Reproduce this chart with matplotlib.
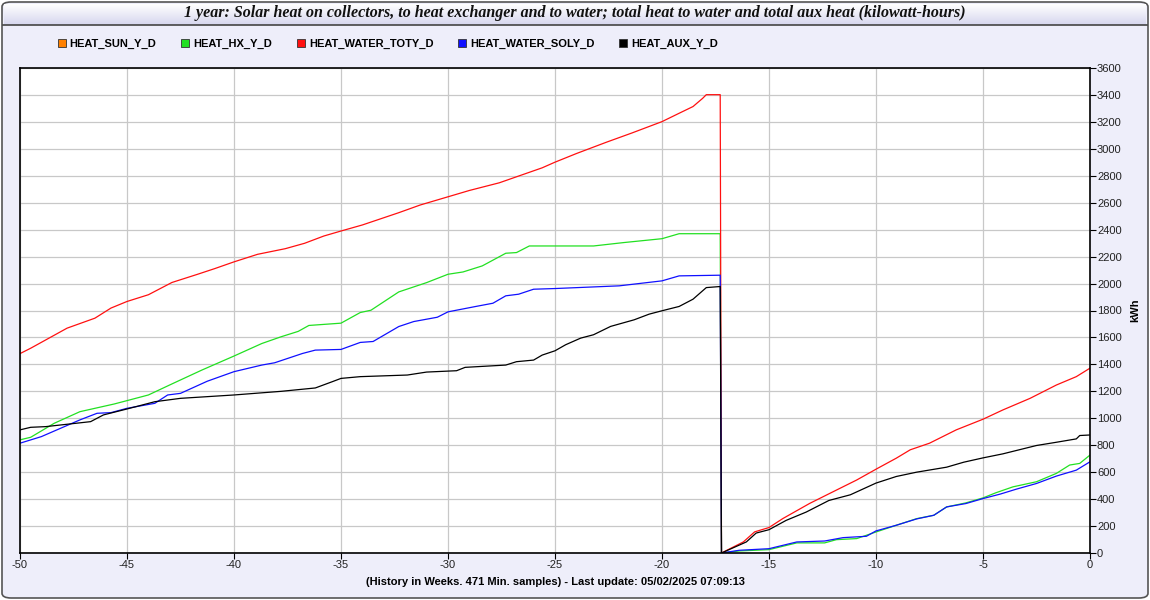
import matplotlib.pyplot as plt
import numpy as np
from matplotlib.lines import Line2D
from matplotlib.patches import FancyBboxPatch
from matplotlib.colors import LinearSegmentedColormap

plt.rcParams["axes.unicode_minus"] = False

# weeks (x) and kWh (y)
sun_w = []
sun_v = []

hx_w = [-50, -49.5, -48.4, -47.2, -45.6, -45, -44, -42.9, -41.5, -40, -38.7, -37.8, -37,
        -36.5, -35, -34.1, -33.6, -32.3, -31, -30, -29.3, -28.4, -27.3, -26.8, -26.2, -25,
        -23.2, -21.8, -20, -19.2, -17.28,
        -17.22, -16.4, -15, -13.7, -12.4, -11.85, -10.9, -10, -9.05, -8.1, -7.3, -6.7, -5.8,
        -5, -4.4, -3.6, -2.5, -1.57, -0.95, -0.48, 0]
hx_v = [840, 859, 963, 1049, 1106, 1131, 1173, 1255, 1358, 1462, 1555, 1605, 1645,
        1689, 1706, 1785, 1802, 1938, 2007, 2069, 2086, 2131, 2225, 2230, 2279, 2279,
        2279, 2304, 2333, 2370, 2370,
        0, 15, 25, 75, 75, 99, 107, 156, 206, 255, 280, 342, 372,
        409, 447, 491, 529, 591, 653, 665, 727]

tot_w = [-50, -49.5, -47.8, -46.5, -45.75, -45, -44, -42.9, -41.7, -40.9, -40, -38.9, -37.6,
         -36.7, -35.8, -35, -34, -32.3, -31.3, -30, -29, -27.6, -26.7, -25.6, -25, -24,
         -22.6, -21.4, -20, -19.2, -18.55, -18.1, -17.93, -17.28,
         -17.22, -16.2, -15.67, -15, -14.35, -13.1, -11.85, -10.9, -10, -9.05, -8.4, -7.5,
         -6.25, -5, -4.07, -2.8, -1.57, -0.64, 0]
tot_v = [1480, 1520, 1669, 1743, 1818, 1867, 1917, 2008, 2069, 2111, 2161, 2217, 2259,
         2299, 2353, 2390, 2435, 2526, 2583, 2644, 2691, 2748, 2798, 2859, 2901, 2965,
         3049, 3118, 3202, 3264, 3314, 3375, 3402, 3402,
         0, 82, 157, 189, 256, 368, 467, 542, 622, 704, 766, 815,
         914, 993, 1062, 1148, 1247, 1309, 1372]

sol_w = [-50, -49, -47.2, -46.4, -45.75, -45, -43.7, -43.1, -42.5, -41.25, -40, -38.7, -38.1,
         -36.8, -36.2, -35, -34.1, -33.5, -32.3, -31.6, -30.5, -30, -28.7, -27.9, -27.3,
         -26.7, -26, -25, -22, -20, -19.2, -17.28,
         -17.22, -16.4, -15, -13.7, -12.4, -11.54, -10.45, -10, -9.05, -8.1, -7.3, -6.7,
         -5.8, -5, -4.2, -3.44, -2.5, -1.57, -0.64, 0]
sol_v = [815, 864, 988, 1037, 1042, 1074, 1111, 1173, 1185, 1275, 1346, 1395, 1412,
         1481, 1506, 1511, 1563, 1570, 1681, 1718, 1750, 1790, 1830, 1854, 1909,
         1921, 1958, 1963, 1983, 2020, 2057, 2062,
         0, 20, 32, 82, 89, 114, 124, 164, 206, 253, 280, 342,
         367, 404, 437, 474, 516, 571, 615, 677]

aux_w = [-50, -49.5, -48.8, -46.7, -46.1, -45, -43.7, -42.5, -40, -37.8, -36.2, -35.4, -35,
         -34.1, -31.9, -31, -29.6, -29.2, -27.3, -26.8, -26, -25.6, -25, -24.5, -23.8,
         -23.2, -22.4, -21.3, -20.6, -20, -19.2, -18.55, -17.93, -17.28,
         -17.22, -16.06, -15.6, -15, -14.2, -13.26, -12.2, -11.2, -10, -9.05, -8.1, -6.7,
         -5.9, -5, -4.07, -2.5, -1.57, -0.64, -0.48, 0]
aux_v = [914, 933, 938, 975, 1025, 1069, 1123, 1148, 1173, 1200, 1225, 1272, 1296,
         1309, 1321, 1343, 1353, 1378, 1395, 1420, 1432, 1469, 1501, 1546, 1595,
         1620, 1682, 1731, 1773, 1798, 1830, 1884, 1970, 1978,
         0, 82, 148, 173, 242, 304, 390, 432, 519, 568, 600, 637,
         674, 706, 736, 798, 822, 847, 872, 876]

names = ["HEAT_SUN_Y_D", "HEAT_HX_Y_D", "HEAT_WATER_TOTY_D", "HEAT_WATER_SOLY_D", "HEAT_AUX_Y_D"]
colors = ["#ff8000", "#22e022", "#ff1010", "#1010ff", "#000000"]

title = "1 year: Solar heat on collectors, to heat exchanger and to water; total heat to water and total aux heat (kilowatt-hours)"
xlabel = "(History in Weeks. 471 Min. samples) - Last update: 05/02/2025 07:09:13"

BG = "#eeeefa"
W, H = 1150, 600

fig = plt.figure(figsize=(W / 100, H / 100), dpi=100)
fig.patch.set_facecolor("white")

# outer rounded frame, behind everything
frame = FancyBboxPatch((2 / W, 2 / H), 1 - 4 / W, 1 - 4 / H,
                       boxstyle="round,pad=0,rounding_size=0.008",
                       transform=fig.transFigure, facecolor=BG,
                       edgecolor="#555555", linewidth=1.2, zorder=-10)
fig.patches.append(frame)

# title bar with a soft gradient
tax = fig.add_axes([4 / W, 1 - 25 / H, 1 - 8 / W, 21 / H])
grad = np.linspace(0, 1, 50).reshape(-1, 1)
tax.imshow(grad, aspect="auto", extent=[0, 1, 0, 1],
           cmap=LinearSegmentedColormap.from_list("tb", ["#ffffff", "#d6d6ee"]))
tax.set_xticks([])
tax.set_yticks([])
for s in tax.spines.values():
    s.set_visible(False)
fig.add_artist(Line2D([3 / W, 1 - 3 / W], [1 - 25 / H, 1 - 25 / H],
                      transform=fig.transFigure, color="#444444", linewidth=1.2))
fig.text(0.5, 1 - 13 / H, title, ha="center", va="center",
         family="Liberation Serif", style="italic", weight="bold", fontsize=11.5,
         color="#111111")

ax = fig.add_axes([20 / W, 47 / H, 1070 / W, 485 / H])
ax.set_facecolor("white")

series = [(sun_w, sun_v), (hx_w, hx_v), (tot_w, tot_v), (sol_w, sol_v), (aux_w, aux_v)]
for (xs, ys), c in zip(series, colors):
    ax.plot(xs, ys, color=c, linewidth=0.9)

ax.set_xlim(-50, 0)
ax.set_ylim(0, 3600)
ax.set_xticks(np.arange(-50, 1, 5))
ax.set_yticks(np.arange(0, 3601, 200))
ax.grid(True, color="#c8c8c8", linewidth=0.9)
ax.set_axisbelow(True)
ax.yaxis.tick_right()
ax.yaxis.set_label_position("right")
ax.tick_params(axis="both", labelsize=8, length=4, width=0.8, colors="black",
               labelcolor="#222222", pad=1)
for lab in ax.get_xticklabels() + ax.get_yticklabels():
    lab.set_family("Liberation Sans")
ax.set_ylabel("kWh", fontsize=8, weight="bold", family="Liberation Sans", labelpad=6)
ax.set_xlabel(xlabel, fontsize=8, weight="bold", family="Liberation Sans", labelpad=5)
for s in ax.spines.values():
    s.set_color("black")
    s.set_linewidth(1.2)

handles = [Line2D([], [], linestyle="none", marker="s", markersize=6,
                  markerfacecolor=c, markeredgecolor="#333333", markeredgewidth=0.6)
           for c in colors]
fig.legend(handles, names, loc="center left", bbox_to_anchor=(53 / W, 1 - 44 / H),
           ncol=5, frameon=False, handlelength=0.8, handletextpad=0.3,
           columnspacing=2.2, borderaxespad=0,
           prop={"family": "Liberation Sans", "weight": "bold", "size": 8})

fig.savefig("out.png", dpi=100, facecolor=fig.get_facecolor())
